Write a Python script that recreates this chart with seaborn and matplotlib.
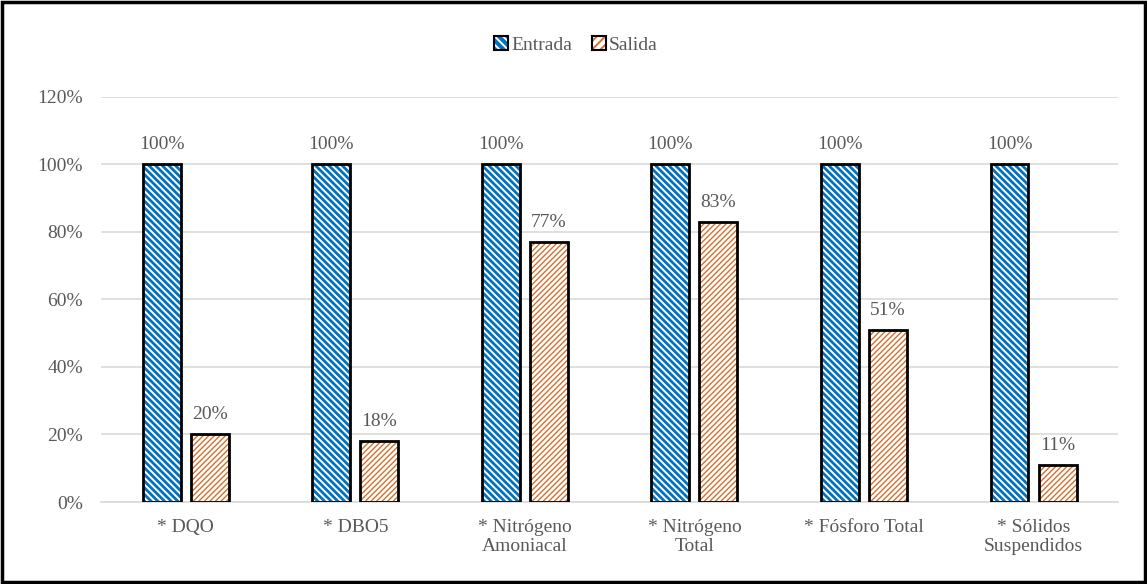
import matplotlib
matplotlib.use("Agg")
import matplotlib.pyplot as plt
import seaborn as sns
import pandas as pd
from matplotlib.patches import Rectangle, Patch
from matplotlib.legend_handler import HandlerTuple
from matplotlib.ticker import FuncFormatter

categories = ["* DQO", "* DBO5", "* Nitrógeno\nAmoniacal", "* Nitrógeno\nTotal",
              "* Fósforo Total", "* Sólidos\nSuspendidos"]
entrada = [100, 100, 100, 100, 100, 100]
salida = [20, 18, 77, 83, 51, 11]
series = ["Entrada", "Salida"]

sns.set_theme(style="white")
plt.rcParams['font.family'] = ['Liberation Serif', 'DejaVu Serif']
plt.rcParams['hatch.linewidth'] = 1.4

TXT = "#595959"
FS = 14

df = pd.DataFrame({
    "cat": categories * 2,
    "serie": [series[0]] * len(categories) + [series[1]] * len(categories),
    "val": [v / 100 for v in entrada] + [v / 100 for v in salida],
})

fig = plt.figure(figsize=(11.47, 5.84), dpi=100)
ax = fig.add_axes([0.088, 0.1404, 0.887, 0.6936])

sns.barplot(data=df, x="cat", y="val", hue="serie", ax=ax, width=0.567,
            gap=0.21, palette=["#0070C0", "#FFFFFF"], legend=False)

styles = {
    "Entrada": dict(face="#0070C0", hatchc="#FFFFFF", hatch="\\\\\\\\\\", hlw=1.4),
    "Salida": dict(face="#FFFFFF", hatchc="#D5702E", hatch="//////", hlw=1.0),
}
n = len(categories)
bars = [p for p in ax.patches if isinstance(p, Rectangle)][:2 * n]
for i, p in enumerate(bars):
    s = styles[series[i // n]]
    p.set_facecolor(s["face"])
    p.set_edgecolor(s["hatchc"])
    p.set_hatch(s["hatch"])
    if hasattr(p, "set_hatch_linewidth"):
        p.set_hatch_linewidth(s["hlw"])
    p.set_linewidth(0)
    ax.add_patch(Rectangle((p.get_x(), p.get_y()), p.get_width(), p.get_height(),
                           fill=False, edgecolor="black", linewidth=2.0, zorder=3))
    h = p.get_height()
    ax.annotate(f"{round(h * 100):d}%", (p.get_x() + p.get_width() / 2, h),
                xytext=(0, 8), textcoords="offset points",
                ha="center", va="bottom", fontsize=FS, color=TXT)

ax.set_ylim(0, 1.2)
ax.set_yticks([0, 0.2, 0.4, 0.6, 0.8, 1.0, 1.2])
ax.yaxis.set_major_formatter(FuncFormatter(lambda v, _: f"{v * 100:.0f}%"))
ax.grid(axis="y", color="#D9D9D9", linewidth=1.2)
ax.set_axisbelow(True)
for side in ["top", "right", "left"]:
    ax.spines[side].set_visible(False)
ax.spines["bottom"].set_color("#D9D9D9")
ax.spines["bottom"].set_linewidth(1.2)
ax.tick_params(axis="y", length=0, labelsize=FS, labelcolor=TXT, pad=13)
ax.tick_params(axis="x", length=0, labelsize=FS, labelcolor=TXT, pad=12)
for lab in ax.get_xticklabels():
    lab.set_linespacing(1.2)
ax.set_xlabel("")
ax.set_ylabel("")

# legend
hE = Patch(facecolor="#0070C0", edgecolor="#FFFFFF", hatch="\\\\\\\\", linewidth=0)
hS = Patch(facecolor="#FFFFFF", edgecolor="#D5702E", hatch="////", linewidth=0)
border = Patch(facecolor="none", edgecolor="black", linewidth=1.5)
leg = fig.legend([(hE, border), (hS, border)], series, loc="center",
                 bbox_to_anchor=(0.502, 0.923), ncol=2, frameon=False, fontsize=FS,
                 handlelength=0.75, handleheight=0.75, handletextpad=0.15,
                 columnspacing=1.0, labelcolor=TXT,
                 handler_map={tuple: HandlerTuple(ndivide=1, pad=0)})

fig.add_artist(Rectangle((0.002, 0.003), 0.996, 0.994, transform=fig.transFigure,
                         fill=False, edgecolor="black", linewidth=2.5))

fig.savefig("out.png", dpi=100)
